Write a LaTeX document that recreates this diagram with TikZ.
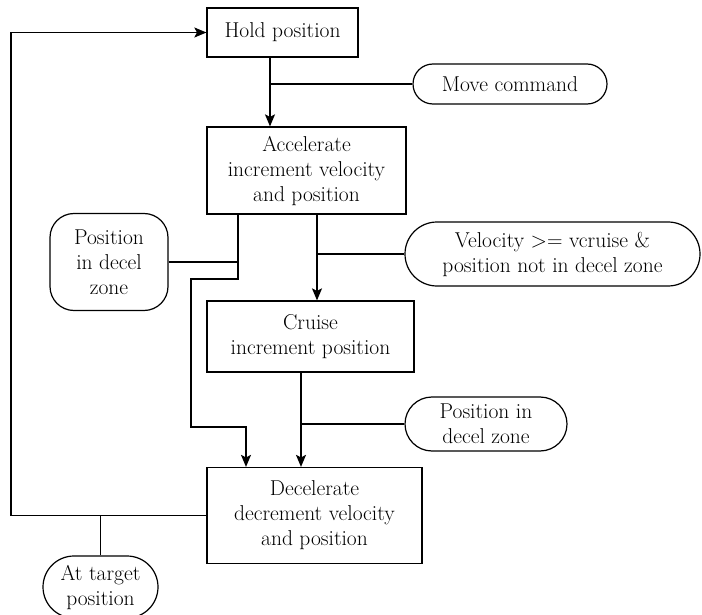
\documentclass[tikz,border=0pt]{standalone}
\usetikzlibrary{shapes.misc,arrows.meta}
\begin{document}
\begin{tikzpicture}[x=1pt,y=-1pt,
  every node/.style={font=\rmfamily\fontsize{21.5}{25}\selectfont, align=center, inner sep=0pt, line width=1.2pt},
  dims/.style 2 args={minimum width=#1, minimum height=#2},
  stad/.style={draw, rounded rectangle},
  rbox/.style={draw, rectangle, rounded corners=24pt},
  conn/.style={line width=1.2pt},
  arr/.style={conn, -{Stealth[length=12pt,width=10pt,inset=2.5pt]}}]
\clip (0,0) rectangle (702,615);
\useasboundingbox (0,0) rectangle (702,615);

\node[draw, dims={151pt}{49pt}] (hold) at (282.5,32.5) {Hold position};
\node[stad, dims={194pt}{40pt}] (move) at (510,84) {Move command};
\node[draw, dims={199pt}{87pt}] (acc) at (306.5,170.5) {Accelerate\\increment velocity\\and position};
\node[rbox, dims={118pt}{97pt}] (posl) at (109,262) {Position\\in decel\\zone};
\node[stad, dims={295pt}{64pt}] (vel) at (552.5,254) {Velocity >= vcruise \&\\position not in decel zone};
\node[draw, dims={207pt}{71pt}] (cruise) at (310.5,336.5) {Cruise\\increment position};
\node[stad, dims={162pt}{54pt}] (posr) at (486,424) {Position in\\decel zone};
\node[draw, dims={215pt}{96pt}] (dec) at (314.5,515.5) {Decelerate\\decrement velocity\\and position};
\node[stad, dims={115pt}{62pt}] (tgt) at (100.5,587) {At target\\position};

% junctions
\coordinate (c1) at (270,84);
\coordinate (lb) at (11,515.5);
\coordinate (lt) at (11,32.5);
\coordinate (a1) at (238,262);
\coordinate (a2) at (238,279);
\coordinate (a3) at (191,279);
\coordinate (a4) at (191,427);
\coordinate (a5) at (246,427);
\coordinate (b1) at (317,254);
\coordinate (c2) at (301,424);

\draw[arr] (hold.south -| c1) -- (acc.north -| c1);
\draw[conn] (move.west) -- (c1);
\draw[arr] (dec.west) -- (lb) -- (lt) -- (hold.west);
\draw[conn] (tgt.north) -- (tgt.north |- dec.west);
\draw[arr] (acc.south -| a1) -- (a2) -- (a3) -- (a4) -- (a5) -- (dec.north -| a5);
\draw[conn] (posl.east) -- (a1);
\draw[arr] (acc.south -| b1) -- (cruise.north -| b1);
\draw[conn] (vel.west) -- (b1);
\draw[arr] (cruise.south -| c2) -- (dec.north -| c2);
\draw[conn] (posr.west) -- (c2);
\end{tikzpicture}
\end{document}
